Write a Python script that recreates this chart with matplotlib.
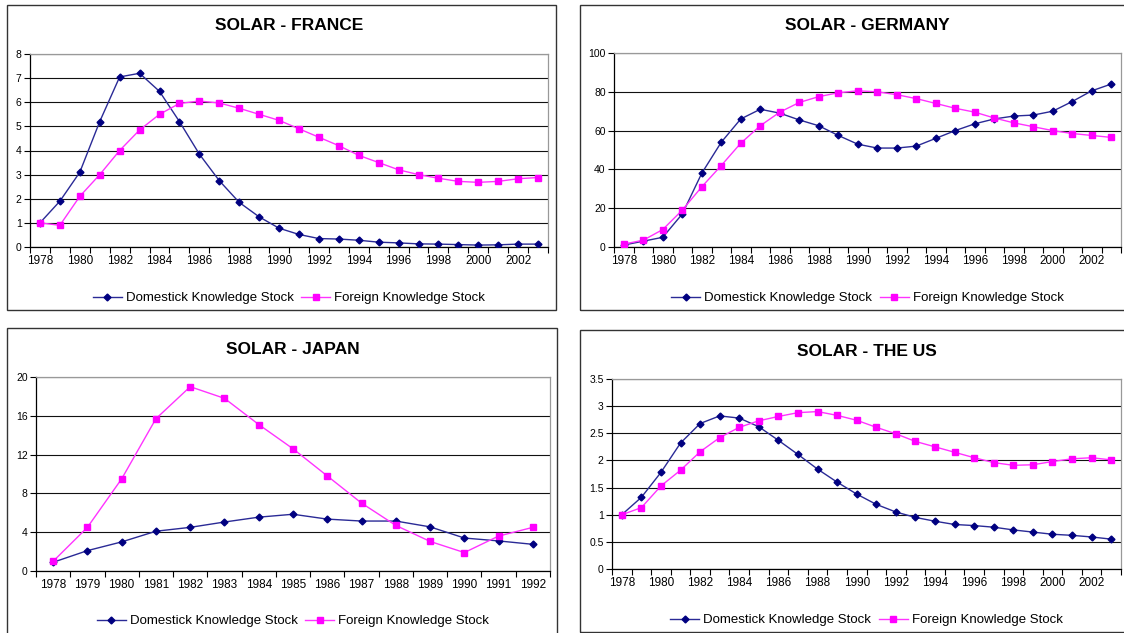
import numpy as np
import matplotlib
matplotlib.use("Agg")
import matplotlib.pyplot as plt
from matplotlib.patches import Rectangle

plt.rcParams['font.family'] = ['Liberation Sans', 'DejaVu Sans']

years_long = list(range(1978, 2004))
years_japan = list(range(1978, 1993))

france_dom = [1.0, 1.9, 3.1, 5.2, 7.05, 7.2, 6.45, 5.2, 3.85, 2.75, 1.85, 1.25, 0.78,
              0.52, 0.35, 0.33, 0.28, 0.2, 0.17, 0.13, 0.12, 0.1, 0.08, 0.09, 0.12, 0.12]
france_for = [1.0, 0.9, 2.1, 3.0, 4.0, 4.85, 5.5, 5.95, 6.05, 5.97, 5.75, 5.5, 5.25,
              4.9, 4.55, 4.2, 3.8, 3.5, 3.2, 3.0, 2.85, 2.72, 2.68, 2.72, 2.83, 2.88]

germany_dom = [1, 3, 5, 17, 38, 54, 66, 71, 69, 65.5, 62.5, 57.5, 53,
               51, 51, 52, 56, 60, 63.5, 66, 67.5, 68, 70, 75, 80.5, 84]
germany_for = [1.5, 3.5, 9, 19, 31, 42, 53.5, 62.5, 69.5, 74.5, 77.5, 79.5, 80.5,
               80, 78.5, 76.5, 74, 71.5, 69.5, 66.5, 64, 62, 60, 58.5, 57.5, 56.5]

japan_dom = [0.9, 2.1, 3.0, 4.1, 4.5, 5.05, 5.55, 5.85, 5.35, 5.15, 5.15, 4.55, 3.4, 3.1, 2.75]
japan_for = [1.0, 4.5, 9.5, 15.7, 19.0, 17.8, 15.1, 12.6, 9.8, 7.0, 4.7, 3.05, 1.9, 3.6, 4.5]

us_dom = [1.0, 1.32, 1.78, 2.32, 2.68, 2.82, 2.78, 2.62, 2.37, 2.11, 1.84, 1.6, 1.38,
          1.19, 1.05, 0.95, 0.88, 0.82, 0.8, 0.77, 0.72, 0.68, 0.64, 0.62, 0.59, 0.55]
us_for = [1.0, 1.13, 1.53, 1.82, 2.16, 2.42, 2.61, 2.73, 2.81, 2.88, 2.9, 2.83, 2.74,
          2.61, 2.49, 2.35, 2.25, 2.15, 2.05, 1.96, 1.91, 1.92, 1.98, 2.03, 2.05, 2.01]

W, H = 1124, 633
fig = plt.figure(figsize=(W / 100, H / 100), dpi=100)
fig.patch.set_facecolor('white')


def fx(px):
    return px / W


def fy(py):
    return 1 - py / H


# panel boxes (left, top, right, bottom) in pixels
panels = [(7, 5, 556, 310), (580, 5, 1140, 310), (7, 328, 557, 650), (580, 330, 1140, 632)]
for (l, t, r, b) in panels:
    fig.patches.append(Rectangle((fx(l), fy(b)), fx(r - l), fy(t) - fy(b),
                                 transform=fig.transFigure, fill=False,
                                 edgecolor='#333333', lw=1.0))


def draw(plot_box, title, title_y, legend_y, years, dom, dfor, ymax, ystep, label_step, yfmt):
    l, t, r, b = plot_box
    ax = fig.add_axes([fx(l), fy(b), fx(r - l), fy(t) - fy(b)])
    n = len(years)
    x = np.arange(n)
    ax.plot(x, dom, color='#2a2a96', lw=1.0, marker='D', markersize=3.5,
            markerfacecolor='#000080', markeredgecolor='#000080',
            label='Domestick Knowledge Stock', zorder=3)
    ax.plot(x, dfor, color='#ff33ff', lw=1.0, marker='s', markersize=4.5,
            markerfacecolor='#ff00ff', markeredgecolor='#ff00ff',
            label='Foreign Knowledge Stock', zorder=3)
    ax.set_xlim(-0.5, n - 0.5)
    ax.set_ylim(0, ymax)
    yt = np.arange(0, ymax + ystep / 2, ystep)
    ax.set_yticks(yt)
    ax.set_yticklabels([yfmt(v) for v in yt])
    ax.yaxis.grid(True, color='#111111', lw=0.8)
    ax.set_axisbelow(True)
    ax.set_xticks(np.arange(n + 1) - 0.5)
    ax.set_xticklabels([])
    ax.set_xticks(np.arange(0, n, label_step), minor=True)
    ax.set_xticklabels([str(years[i]) for i in range(0, n, label_step)], minor=True)
    ax.tick_params(axis='x', which='major', length=4, width=0.8, direction='out')
    ax.tick_params(axis='x', which='minor', length=0, labelsize=8.5, pad=6)
    ax.tick_params(axis='y', length=4, width=0.8, direction='out', labelsize=7.5, pad=2)
    ax.spines['left'].set_color('black')
    ax.spines['bottom'].set_color('black')
    ax.spines['top'].set_color('#999999')
    ax.spines['right'].set_color('#999999')
    for s in ax.spines.values():
        s.set_linewidth(0.9)
    cx = (l + r) / 2
    fig.text(fx(cx), fy(title_y), title, ha='center', va='center',
             fontsize=12.5, fontweight='bold')
    ax.legend(loc='center', bbox_to_anchor=(fx(cx), fy(legend_y)),
              bbox_transform=fig.transFigure, ncol=2, frameon=False,
              fontsize=9.5, handlelength=2.2, handletextpad=0.3,
              columnspacing=0.6, borderpad=0)
    return ax


draw((30, 54, 548, 247), 'SOLAR - FRANCE', 26, 298, years_long,
     france_dom, france_for, 8, 1, 2, lambda v: '%d' % v)
draw((614, 53, 1121, 247), 'SOLAR - GERMANY', 26, 298, years_long,
     germany_dom, germany_for, 100, 20, 2, lambda v: '%d' % v)
draw((36, 377, 550, 571), 'SOLAR - JAPAN', 350, 621, years_japan,
     japan_dom, japan_for, 20, 4, 1, lambda v: '%d' % v)
draw((612, 379, 1121, 569), 'SOLAR - THE US', 352, 620, years_long,
     us_dom, us_for, 3.5, 0.5, 2, lambda v: ('%g' % v))

fig.savefig('out.png', dpi=100)
